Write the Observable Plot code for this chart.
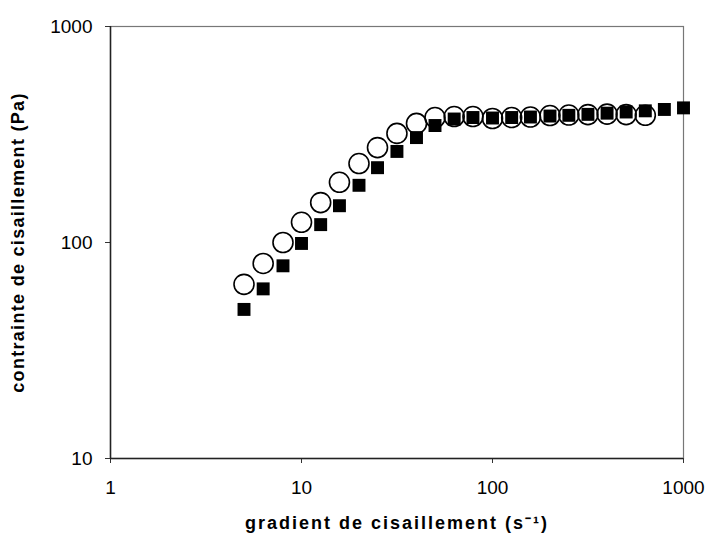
<!DOCTYPE html>
<html>
<head>
<meta charset="utf-8">
<script src="https://cdn.jsdelivr.net/npm/d3@7"></script>
<script src="https://cdn.jsdelivr.net/npm/@observablehq/plot@0.6"></script>
<style>
  html, body { margin: 0; padding: 0; background: #fff; }
</style>
</head>
<body>
<div id="chart"></div>
<script>
const shearRateCircles = [5, 6.3, 8, 10, 12.6, 15.8, 20, 25, 31.6, 40, 50, 63, 79, 100, 126, 158, 200, 251, 316, 398, 501, 631];
const stressCircles   = [64, 80, 100, 124, 153, 190, 232, 275, 320, 356, 379, 383, 383, 375, 379, 381, 387, 389, 391, 393, 391, 388];
const shearRateSquares = [5, 6.3, 8, 10, 12.6, 15.8, 20, 25, 31.6, 40, 50, 63, 79, 100, 126, 158, 200, 251, 316, 398, 501, 631, 794, 1000];
const stressSquares   = [49, 61, 78, 99, 121, 148, 184, 222, 264, 306, 348, 373, 379, 377, 379, 381, 385, 388, 392, 397, 402, 407, 413, 420];
const xTicks = [1, 10, 100, 1000];
const yTicks = [10, 100, 1000];
const xTitle = "gradient de cisaillement (s\u207B\u00B9)";
const yTitle = "contrainte de cisaillement (Pa)";

const circles = shearRateCircles.map((x, i) => ({x, y: stressCircles[i]}));
const squares = shearRateSquares.map((x, i) => ({x, y: stressSquares[i]}));
const fmt = d => String(d);

const chart = Plot.plot({
  width: 705,
  height: 538,
  marginLeft: 110,
  marginRight: 22,
  marginTop: 26,
  marginBottom: 80,
  style: {fontFamily: "Liberation Sans, Arial, sans-serif", fontSize: "19px", color: "#000", background: "#fff"},
  x: {type: "log", domain: [1, 1000], label: null},
  y: {type: "log", domain: [10, 1000], label: null},
  marks: [
    Plot.frame({stroke: "#777", strokeWidth: 1.2}),
    Plot.axisX(xTicks, {tickSize: 5, tickPadding: 17, fontSize: 19, stroke: "#333", tickFormat: fmt, label: null}),
    Plot.axisY(yTicks, {tickSize: 5, tickPadding: 13, fontSize: 19, stroke: "#333", tickFormat: fmt, label: null}),
    Plot.ruleX([1], {stroke: "#222", strokeWidth: 1.5}),
    Plot.ruleY([10], {stroke: "#222", strokeWidth: 1.5}),
    Plot.dot(squares, {x: "x", y: "y", symbol: "square", r: 7.3, fill: "#000", stroke: "none"}),
    Plot.dot(circles, {x: "x", y: "y", symbol: "circle", r: 10, fill: "none", stroke: "#000", strokeWidth: 1.6}),
    Plot.text([xTitle], {frameAnchor: "bottom", dy: 70, fontWeight: "bold", fontSize: 18, className: "xtitle"}),
    Plot.text([yTitle], {frameAnchor: "left", dx: -92, rotate: -90, textAnchor: "middle", fontWeight: "bold", fontSize: 18, className: "ytitle"})
  ]
});
document.getElementById("chart").appendChild(chart);
d3.select(chart).selectAll(".xtitle text").style("letter-spacing", "2px");
d3.select(chart).selectAll(".ytitle text").style("letter-spacing", "1.3px");
</script>
</body>
</html>
